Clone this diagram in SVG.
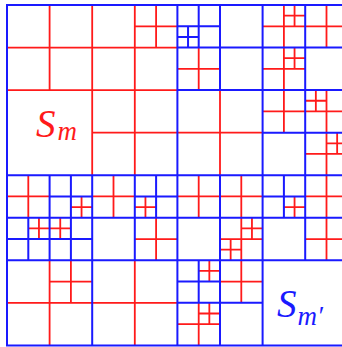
<svg xmlns="http://www.w3.org/2000/svg" width="342" height="347" viewBox="0 0 342 347">
<style>
.r path{fill:none;stroke:#ff1a1a;stroke-width:1.8;vector-effect:non-scaling-stroke}
.b path{fill:none;stroke:#1a1aff;stroke-width:2;vector-effect:non-scaling-stroke}
.lbl text{font-family:"Liberation Serif","DejaVu Serif",serif;font-style:italic;font-size:39px}
</style>
<rect width="342" height="347" fill="#ffffff"/>
<g transform="translate(7 5) scale(42.6 42.55)">
<g id="partition-m" class="r">
<path d="M1 0V2M2 0V4M3 0V4M0 1H4M0 2H4M2 3H4M3.5 0V1M3 0.5H4"/>
<path d="M4.5 1V2M4 1.5H5M5 2V4M4 3H6M6 0.5H8M6.5 0V3M7.5 0V1M6.75 0V0.5M6.5 0.25H7M6 1.5H7M6.75 1V1.5M6.5 1.25H7M6 2.5H8M7.5 2V4M7.25 2V2.5M7 2.25H7.5M7 3.5H8M7.75 3V3.5M7.5 3.25H8"/>
<path d="M0.5 4V5M0 4.5H1M1.75 4.5V5M1.5 4.75H2M2.5 4V5M2 4.5H3M3.25 4.5V5M3 4.75H3.5M0.75 5V5.5M0.5 5.25H1.5M1.25 5V5.5M3.5 5V6M3 5.5H4M0 7H4M1 6V8M1.5 6V7M1 6.5H2M3 6V8"/>
<path d="M4.5 4V5M4 4.5H6M5.5 4V7M6.75 4.5V5M6.5 4.75H7M7.5 4V6M7 4.5H8M7 5.5H8M5 5.5H6M5.75 5V5.5M5.5 5.25H6M5.25 5.5V6M5 5.75H5.5M4.75 6V6.5M4.5 6.25H5M5 6.5H6M4.5 7V8M4 7.5H5M4.75 7V7.5M4.5 7.25H5"/>
</g>
<g id="partition-m-prime" class="b">
<path d="M0 0H8V8H0ZM0 4H8M4 0V8"/>
<path d="M4.5 0V1M4 0.5H5M4.25 0.5V1M4 0.75H4.5M5 0V2M4 1H8M4 2H8M6 0V8M7 0V6M6 3H8"/>
<path d="M1 4V6M2 4V8M1.5 4V6M1 4.5H2M3 4V6M3.5 4V5M3 4.5H4M0 5H8M0.5 5V6M0 5.5H2M0 6H8"/>
<path d="M5 4V8M6.5 4V5M6 4.5H7M4.5 6V7M4 6.5H5M4 7H6"/>
</g>
</g>
<g id="labels" class="lbl">
<text id="label-sm" x="36" y="137" fill="#ff1a1a">S<tspan font-size="27" dx="2" dy="3">m</tspan></text>
<text id="label-smp" x="277" y="317" fill="#1a1aff">S<tspan font-size="27" dx="1" dy="8">m′</tspan></text>
</g>
</svg>
